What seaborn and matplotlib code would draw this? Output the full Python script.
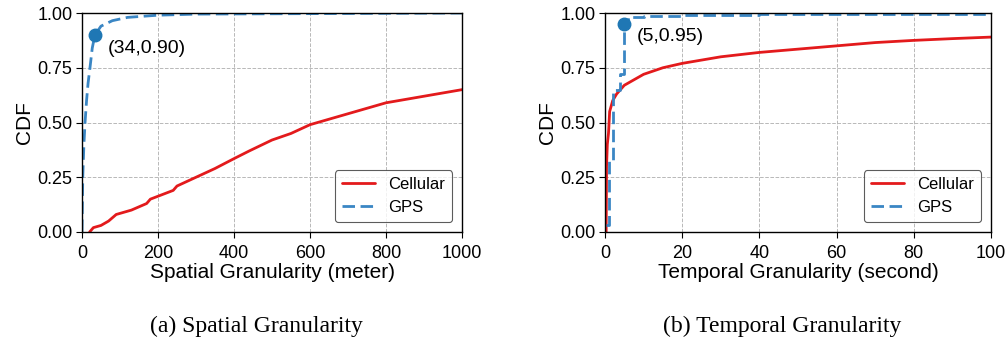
import numpy as np
import pandas as pd
import matplotlib
matplotlib.use("Agg")
import matplotlib.pyplot as plt
import seaborn as sns

# ---- data ----
spatial_cell_x = [20, 30, 50, 70, 90, 130, 170, 180, 240, 250, 300, 350, 400, 440, 500, 550, 600, 700, 800, 900, 1000]
spatial_cell_y = [0.0, 0.02, 0.03, 0.05, 0.08, 0.10, 0.13, 0.15, 0.19, 0.21, 0.25, 0.29, 0.335, 0.37, 0.42, 0.45, 0.49, 0.54, 0.59, 0.62, 0.65]
spatial_gps_x = [0, 2, 5, 8, 12, 16, 21, 27, 34, 50, 80, 120, 200, 300, 1000]
spatial_gps_y = [0.0, 0.25, 0.40, 0.50, 0.60, 0.68, 0.75, 0.84, 0.90, 0.94, 0.965, 0.98, 0.99, 0.995, 1.0]

temporal_cell_x = [0.3, 0.4, 0.6, 0.9, 1.0, 1.2, 2, 3, 5, 8, 10, 15, 20, 30, 40, 50, 60, 70, 80, 90, 100]
temporal_cell_y = [0.0, 0.30, 0.40, 0.45, 0.48, 0.55, 0.60, 0.63, 0.67, 0.70, 0.72, 0.75, 0.77, 0.80, 0.82, 0.835, 0.85, 0.865, 0.875, 0.883, 0.89]
temporal_gps_x = [0.2, 1, 2, 4, 5, 6, 10, 20, 40, 100]
temporal_gps_y = [0.03, 0.33, 0.65, 0.72, 0.97, 0.98, 0.985, 0.99, 0.995, 1.0]

spatial_mark = (34, 0.90)
temporal_mark = (5, 0.95)

series_names = ["Cellular", "GPS"]
y_ticks = [0.0, 0.25, 0.5, 0.75, 1.0]
spatial_xticks = [0, 200, 400, 600, 800, 1000]
temporal_xticks = [0, 20, 40, 60, 80, 100]

sns.set_style("ticks")
plt.rcParams["font.family"] = ["Liberation Sans", "DejaVu Sans"]
plt.rcParams["text.color"] = "black"
plt.rcParams["axes.labelcolor"] = "black"
plt.rcParams["xtick.color"] = "black"
plt.rcParams["ytick.color"] = "black"

RED = "#e31a1c"
BLUE = "#3a86c4"
MARK = "#1f77b4"

fig = plt.figure(figsize=(10.08, 3.43), dpi=100)
ax1 = fig.add_axes([82 / 1008, 1 - 232 / 343, 380 / 1008, 219 / 343])
ax2 = fig.add_axes([605 / 1008, 1 - 232 / 343, 386 / 1008, 219 / 343])


def draw(ax, cx, cy, gx, gy, mark, xlim, xticks, xlabel, gps_steps, ann_off):
    sns.lineplot(x=cx, y=cy, ax=ax, color=RED, lw=2, label=series_names[0], estimator=None, sort=False)
    sns.lineplot(x=gx, y=gy, ax=ax, color=BLUE, lw=2, ls=(0, (4.5, 2)), label=series_names[1],
                 estimator=None, sort=False, drawstyle="steps-post" if gps_steps else "default")
    ax.plot([mark[0]], [mark[1]], "o", color=MARK, ms=9, zorder=5)
    ax.annotate(f"({mark[0]},{mark[1]:.2f})", xy=mark, xytext=ann_off,
                textcoords="offset points", fontsize=14, va="center")
    ax.set_xlim(*xlim)
    ax.set_ylim(0, 1)
    ax.set_xticks(xticks)
    ax.set_yticks(y_ticks)
    ax.set_yticklabels([f"{v:.2f}" for v in y_ticks])
    ax.tick_params(labelsize=13, length=4, color="black", pad=3)
    ax.tick_params(axis="x", pad=5)
    ax.set_xlabel(xlabel, fontsize=15, labelpad=1)
    ax.set_ylabel("CDF", fontsize=15, labelpad=2)
    ax.grid(True, ls="--", color="#b8b8b8", lw=0.7)
    for s in ax.spines.values():
        s.set_visible(True)
        s.set_linewidth(1.0)
        s.set_color("black")
    leg = ax.legend(loc="lower right", fontsize=12, frameon=True, fancybox=True,
                    handlelength=2.0, borderaxespad=0.6)
    leg.get_frame().set_edgecolor("#333333")
    leg.get_frame().set_linewidth(0.8)


draw(ax1, spatial_cell_x, spatial_cell_y, spatial_gps_x, spatial_gps_y, spatial_mark,
     (0, 1000), spatial_xticks, "Spatial Granularity (meter)", False, (9, -10))
draw(ax2, temporal_cell_x, temporal_cell_y, temporal_gps_x, temporal_gps_y, temporal_mark,
     (0, 100), temporal_xticks, "Temporal Granularity (second)", True, (9, -9))

fig.text(256 / 1008, 1 - 326 / 343, "(a) Spatial Granularity", ha="center", va="center",
         fontsize=17, family=["Liberation Serif", "DejaVu Serif"])
fig.text(782 / 1008, 1 - 326 / 343, "(b) Temporal Granularity", ha="center", va="center",
         fontsize=17, family=["Liberation Serif", "DejaVu Serif"])

fig.savefig("out.png", dpi=100)
